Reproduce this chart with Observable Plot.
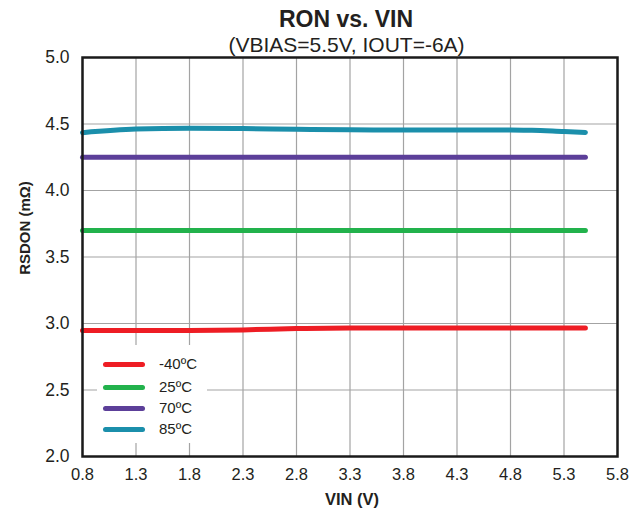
<!DOCTYPE html>
<html>
<head>
<meta charset="utf-8">
<script src="https://cdn.jsdelivr.net/npm/d3@7"></script>
<script src="https://cdn.jsdelivr.net/npm/@observablehq/plot@0.6"></script>
<style>
  body { margin: 0; background: #fff; font-family: "Liberation Sans", Arial, sans-serif; }
  #wrap { position: relative; width: 637px; height: 514px; overflow: hidden; }
  #chart { position: absolute; left: 0; top: 0; }
  .t { position: absolute; white-space: nowrap; color: #231f20; }
  #title { left: 0; width: 692px; top: 6px; text-align: center; font-weight: bold; font-size: 23px; line-height: 26px; }
  #subtitle { left: 0; width: 693px; top: 33px; text-align: center; font-size: 21px; line-height: 24px; }
  #xlabel { left: 0; width: 704px; top: 489px; text-align: center; font-weight: bold; font-size: 16.5px; line-height: 20px; }
  #ylabel { left: 25px; top: 228px; font-weight: bold; font-size: 15px; line-height: 18px; transform: translate(-50%, -50%) rotate(-90deg); }
  #legend { position: absolute; left: 97px; top: 345px; width: 110px; height: 98px; background: #fff; }
  .li { position: absolute; left: 0; height: 20px; width: 110px; }
  .sw { position: absolute; left: 6px; top: 7.5px; width: 42px; height: 5px; border-radius: 3px; }
  .lt { position: absolute; left: 62px; top: 0; font-size: 15px; line-height: 20px; color: #231f20; }
</style>
</head>
<body>
<div id="wrap">
  <div id="chart"></div>
  <div class="t" id="title">RON vs. VIN</div>
  <div class="t" id="subtitle">(VBIAS=5.5V, IOUT=-6A)</div>
  <div class="t" id="xlabel">VIN (V)</div>
  <div class="t" id="ylabel">RSDON (mΩ)</div>
  <div id="legend"></div>
</div>
<script>
const vin = [0.8, 1.3, 1.8, 2.3, 2.8, 3.3, 3.8, 4.3, 4.8, 5.0, 5.3, 5.5];
const ronM40 = [2.947, 2.947, 2.948, 2.952, 2.962, 2.967, 2.967, 2.967, 2.967, 2.967, 2.967, 2.967];
const ron25 = [3.70, 3.70, 3.70, 3.70, 3.70, 3.70, 3.70, 3.70, 3.70, 3.70, 3.70, 3.70];
const ron70 = [4.25, 4.25, 4.25, 4.25, 4.25, 4.25, 4.25, 4.25, 4.25, 4.25, 4.25, 4.25];
const ron85 = [4.435, 4.462, 4.468, 4.466, 4.460, 4.456, 4.455, 4.455, 4.454, 4.453, 4.443, 4.437];
const seriesNames = ["-40ºC", "25ºC", "70ºC", "85ºC"];
const seriesColors = ["#ee1d24", "#22b24c", "#5c3f99", "#1b8fab"];
const xTicks = [0.8, 1.3, 1.8, 2.3, 2.8, 3.3, 3.8, 4.3, 4.8, 5.3, 5.8];
const yTicks = [2.0, 2.5, 3.0, 3.5, 4.0, 4.5, 5.0];

const allSeries = [ronM40, ron25, ron70, ron85];
const rows = [];
allSeries.forEach((vals, i) => vals.forEach((v, j) => rows.push({vin: vin[j], ron: v, s: seriesNames[i]})));

const chart = Plot.plot({
  width: 637,
  height: 514,
  marginLeft: 82,
  marginRight: 20,
  marginTop: 57,
  marginBottom: 58,
  style: { fontFamily: "'Liberation Sans', Arial, sans-serif", fontSize: "16px", color: "#231f20", background: "white" },
  x: { domain: [0.8, 5.8], ticks: xTicks, tickFormat: d3.format(".1f"), tickSize: 0, tickPadding: 12, label: null },
  y: { domain: [2, 5], ticks: yTicks, tickFormat: d3.format(".1f"), tickSize: 0, tickPadding: 13, label: null },
  color: { domain: seriesNames, range: seriesColors },
  marks: [
    Plot.gridX(xTicks, { stroke: "#a3a3a3", strokeOpacity: 1, strokeWidth: 1.2 }),
    Plot.gridY(yTicks, { stroke: "#a3a3a3", strokeOpacity: 1, strokeWidth: 1.2 }),
    Plot.line(rows, { x: "vin", y: "ron", z: "s", stroke: "s", strokeWidth: 5, curve: "monotone-x", strokeLinecap: "round" }),
    Plot.frame({ stroke: "#1a1a1a", strokeWidth: 2.5 }),
    Plot.axisX({ ticks: xTicks, tickFormat: d3.format(".1f"), tickSize: 0, tickPadding: 12, label: null, fontSize: 16.5 }),
    Plot.axisY({ ticks: yTicks, tickFormat: d3.format(".1f"), tickSize: 0, tickPadding: 13, label: null, fontSize: 17.5 })
  ]
});
document.getElementById("chart").appendChild(chart);

const legend = document.getElementById("legend");
const rowTops = [9, 32, 53, 74];
seriesNames.forEach((name, i) => {
  const li = document.createElement("div");
  li.className = "li";
  li.style.top = rowTops[i] + "px";
  const sw = document.createElement("div");
  sw.className = "sw";
  sw.style.background = seriesColors[i];
  const lt = document.createElement("div");
  lt.className = "lt";
  lt.textContent = name;
  li.appendChild(sw);
  li.appendChild(lt);
  legend.appendChild(li);
});
</script>
</body>
</html>
